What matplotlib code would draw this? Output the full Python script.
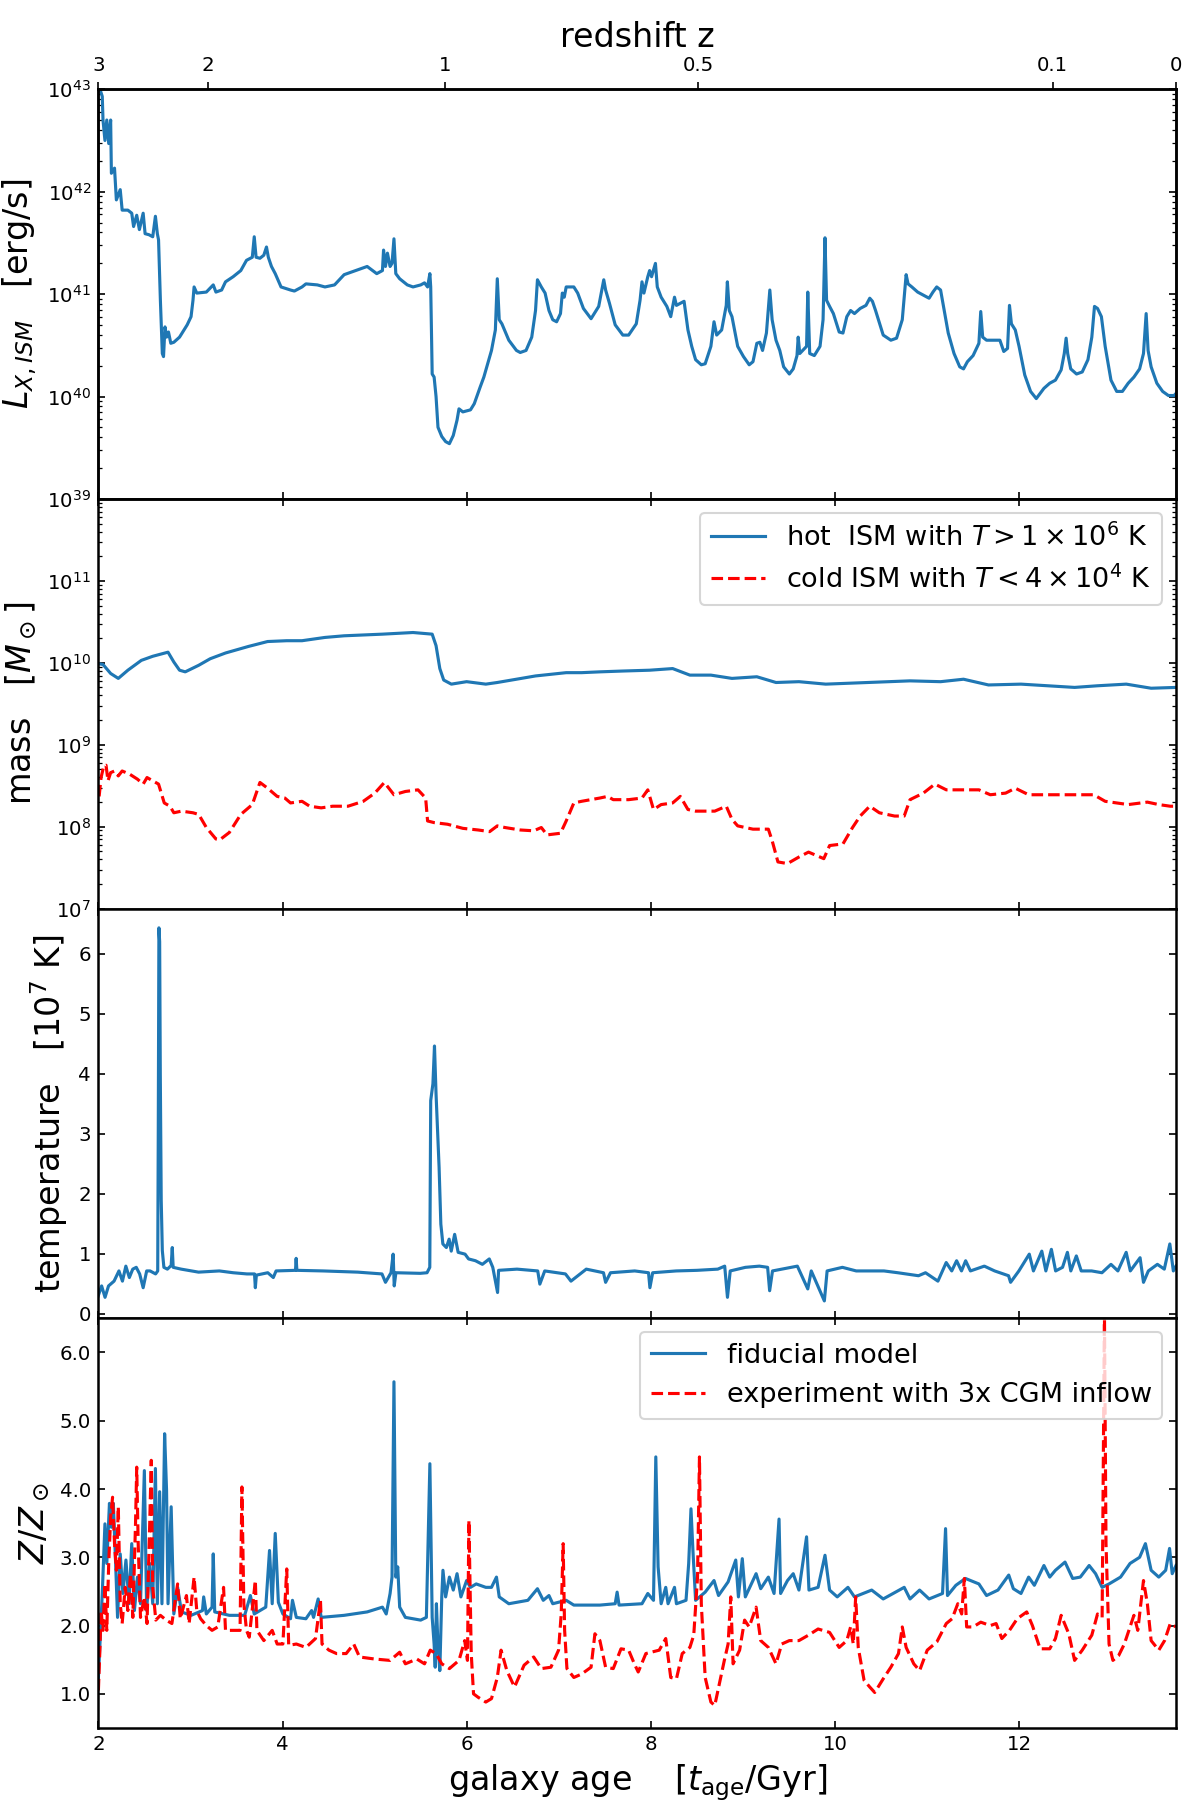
import matplotlib
matplotlib.use("Agg")
import matplotlib.pyplot as plt
import numpy as np

plt.rcParams["axes.linewidth"] = 1.2
plt.rcParams["xtick.labelsize"] = 9.5
plt.rcParams["ytick.labelsize"] = 9.5

# ---- panel 1: X-ray luminosity of the ISM (log10 erg/s) ----
lx_age = [2.017, 2.042, 2.050, 2.071, 2.091, 2.112, 2.133, 2.141, 2.175, 2.195, 2.237, 2.258,
          2.320, 2.362, 2.382, 2.416, 2.445, 2.486, 2.507, 2.549, 2.590, 2.619, 2.640, 2.653,
          2.673, 2.694, 2.707, 2.723, 2.740, 2.761, 2.786, 2.819, 2.881, 2.964, 3.006, 3.027,
          3.039, 3.068, 3.172, 3.247, 3.276, 3.338, 3.380, 3.463, 3.546, 3.608, 3.671, 3.692,
          3.712, 3.754, 3.796, 3.825, 3.845, 3.879, 3.920, 3.983, 4.086, 4.128, 4.211, 4.253,
          4.377, 4.460, 4.564, 4.668, 4.793, 4.918, 5.022, 5.084, 5.096, 5.117, 5.138, 5.167,
          5.188, 5.209, 5.229, 5.271, 5.354, 5.416, 5.500, 5.541, 5.574, 5.599, 5.608, 5.624,
          5.645, 5.666, 5.687, 5.728, 5.770, 5.811, 5.853, 5.894, 5.915, 5.957, 6.040, 6.081,
          6.144, 6.185, 6.268, 6.310, 6.331, 6.352, 6.381, 6.456, 6.539, 6.580, 6.643, 6.705,
          6.746, 6.767, 6.809, 6.850, 6.892, 6.933, 6.975, 7.017, 7.037, 7.058, 7.079, 7.162,
          7.204, 7.266, 7.349, 7.432, 7.487, 7.507, 7.549, 7.611, 7.694, 7.757, 7.840, 7.881,
          7.902, 7.923, 7.965, 7.985, 8.006, 8.048, 8.068, 8.110, 8.172, 8.214, 8.255, 8.276,
          8.359, 8.401, 8.442, 8.484, 8.546, 8.588, 8.650, 8.684, 8.713, 8.767, 8.817, 8.829,
          8.850, 8.879, 8.941, 9.004, 9.066, 9.107, 9.149, 9.182, 9.211, 9.253, 9.290, 9.315,
          9.357, 9.398, 9.440, 9.502, 9.544, 9.585, 9.598, 9.615, 9.689, 9.702, 9.723, 9.773,
          9.835, 9.868, 9.889, 9.906, 9.939, 9.980, 10.043, 10.084, 10.126, 10.167, 10.209,
          10.271, 10.334, 10.375, 10.404, 10.438, 10.521, 10.604, 10.666, 10.728, 10.770,
          10.791, 10.832, 10.895, 10.957, 11.019, 11.061, 11.102, 11.144, 11.186, 11.227,
          11.290, 11.352, 11.393, 11.435, 11.497, 11.560, 11.580, 11.601, 11.643, 11.788,
          11.830, 11.871, 11.892, 11.913, 11.955, 11.996, 12.058, 12.121, 12.183, 12.225,
          12.266, 12.329, 12.391, 12.453, 12.487, 12.507, 12.524, 12.557, 12.620, 12.682,
          12.744, 12.786, 12.815, 12.848, 12.890, 12.931, 12.994, 13.056, 13.118, 13.181,
          13.243, 13.305, 13.347, 13.376, 13.397, 13.430, 13.492, 13.555, 13.617, 13.679, 13.700]
lx_log = [43.00, 42.93, 42.70, 42.50, 42.70, 42.47, 42.70, 42.18, 42.23, 41.92, 42.02, 41.82,
          41.82, 41.79, 41.66, 41.77, 41.63, 41.79, 41.59, 41.58, 41.56, 41.76, 41.59, 41.53,
          40.94, 40.42, 40.39, 40.68, 40.58, 40.63, 40.52, 40.53, 40.58, 40.70, 40.78, 40.94,
          41.07, 41.01, 41.02, 41.09, 41.02, 41.04, 41.12, 41.17, 41.23, 41.33, 41.36, 41.56,
          41.36, 41.35, 41.38, 41.46, 41.36, 41.27, 41.20, 41.07, 41.04, 41.03, 41.07, 41.10,
          41.09, 41.07, 41.09, 41.19, 41.23, 41.27, 41.20, 41.23, 41.43, 41.27, 41.40, 41.27,
          41.30, 41.54, 41.20, 41.15, 41.09, 41.07, 41.09, 41.11, 41.07, 41.20, 41.07, 40.22,
          40.19, 40.00, 39.70, 39.61, 39.56, 39.54, 39.62, 39.77, 39.88, 39.85, 39.87, 39.93,
          40.09, 40.19, 40.45, 40.65, 41.15, 40.75, 40.71, 40.55, 40.45, 40.43, 40.45, 40.58,
          40.84, 41.14, 41.07, 41.01, 40.84, 40.75, 40.73, 40.81, 41.01, 40.97, 41.07, 41.07,
          41.01, 40.86, 40.76, 40.88, 41.14, 41.04, 40.91, 40.70, 40.60, 40.60, 40.71, 40.94,
          41.12, 41.01, 41.17, 41.23, 41.17, 41.30, 41.07, 40.97, 40.88, 40.78, 40.97, 40.89,
          40.93, 40.65, 40.49, 40.36, 40.31, 40.32, 40.49, 40.73, 40.60, 40.65, 40.89, 41.12,
          40.84, 40.78, 40.49, 40.39, 40.31, 40.34, 40.52, 40.53, 40.45, 40.62, 41.04, 40.75,
          40.55, 40.45, 40.29, 40.22, 40.27, 40.40, 40.58, 40.42, 40.49, 41.02, 40.42, 40.40,
          40.49, 40.75, 41.55, 40.94, 40.88, 40.81, 40.63, 40.62, 40.78, 40.84, 40.81,
          40.86, 40.89, 40.96, 40.93, 40.84, 40.60, 40.55, 40.57, 40.75, 41.19,
          41.10, 41.07, 41.02, 40.99, 40.96, 41.02, 41.07, 41.04, 40.83, 40.62,
          40.42, 40.29, 40.27, 40.34, 40.40, 40.52, 40.83, 40.58, 40.55, 40.55,
          40.44, 40.47, 40.89, 40.71, 40.65, 40.49, 40.21, 40.05, 39.98, 40.03,
          40.08, 40.13, 40.16, 40.26, 40.42, 40.57, 40.42, 40.27, 40.22, 40.24,
          40.36, 40.58, 40.88, 40.86, 40.78, 40.49, 40.16, 40.05, 40.05, 40.13,
          40.19, 40.27, 40.42, 40.81, 40.45, 40.29, 40.13, 40.05, 40.01, 40.01, 40.03]

# ---- panel 2: hot and cold ISM mass (log10 Msun) ----
hot_age = [2.00, 2.05, 2.133, 2.216, 2.320, 2.466, 2.590, 2.756, 2.819, 2.881, 2.943, 3.089,
           3.214, 3.380, 3.629, 3.837, 4.045, 4.211, 4.460, 4.668, 5.084, 5.416, 5.624, 5.666,
           5.707, 5.749, 5.832, 5.998, 6.206, 6.331, 6.539, 6.746, 7.079, 7.246, 7.445, 7.694,
           7.985, 8.235, 8.422, 8.650, 8.879, 9.149, 9.357, 9.606, 9.897, 10.354, 10.812,
           11.144, 11.393, 11.664, 12.017, 12.599, 12.848, 13.160, 13.430, 13.700]
hot_log = [9.99, 9.98, 9.87, 9.81, 9.91, 10.03, 10.08, 10.13, 10.01, 9.91, 9.89, 9.97,
           10.05, 10.12, 10.20, 10.26, 10.27, 10.27, 10.31, 10.33, 10.35, 10.37, 10.35, 10.21,
           9.93, 9.79, 9.74, 9.77, 9.74, 9.76, 9.80, 9.84, 9.88, 9.88, 9.89, 9.90,
           9.91, 9.93, 9.85, 9.85, 9.81, 9.83, 9.76, 9.77, 9.74, 9.76, 9.78,
           9.77, 9.80, 9.73, 9.74, 9.70, 9.72, 9.74, 9.69, 9.70]

cold_age = [2.008, 2.029, 2.058, 2.083, 2.104, 2.133, 2.175, 2.216, 2.258, 2.341, 2.424, 2.486,
            2.528, 2.590, 2.653, 2.715, 2.777, 2.819, 2.902, 3.027, 3.089, 3.172, 3.276, 3.318,
            3.422, 3.546, 3.671, 3.754, 3.837, 3.941, 4.024, 4.086, 4.211, 4.294, 4.419, 4.543,
            4.710, 4.876, 5.001, 5.105, 5.209, 5.333, 5.470, 5.553, 5.574, 5.645, 5.791, 5.957,
            6.123, 6.248, 6.331, 6.414, 6.580, 6.726, 6.809, 6.871, 7.017, 7.079, 7.162, 7.246,
            7.445, 7.528, 7.590, 7.757, 7.902, 7.965, 8.027, 8.110, 8.235, 8.318, 8.401, 8.484,
            8.692, 8.817, 8.879, 8.941, 9.107, 9.274, 9.315, 9.378, 9.482, 9.606, 9.710, 9.876,
            9.939, 10.084, 10.188, 10.271, 10.375, 10.479, 10.645, 10.749, 10.812, 10.957,
            11.082, 11.206, 11.435, 11.560, 11.684, 11.850, 11.955, 12.100, 12.433, 12.807,
            12.931, 13.181, 13.389, 13.513, 13.638, 13.700]
cold_log = [8.37, 8.60, 8.74, 8.75, 8.56, 8.66, 8.68, 8.62, 8.68, 8.64, 8.58, 8.52,
            8.60, 8.56, 8.52, 8.29, 8.25, 8.17, 8.19, 8.17, 8.15, 7.99, 7.85, 7.84,
            7.93, 8.15, 8.27, 8.54, 8.47, 8.37, 8.35, 8.29, 8.31, 8.25, 8.23, 8.25,
            8.25, 8.31, 8.41, 8.54, 8.39, 8.43, 8.45, 8.35, 8.07, 8.05, 8.03, 7.98,
            7.96, 7.94, 8.01, 7.99, 7.96, 7.95, 7.99, 7.90, 7.92, 8.07, 8.29, 8.31,
            8.35, 8.37, 8.33, 8.33, 8.35, 8.45, 8.21, 8.27, 8.29, 8.37, 8.21, 8.19,
            8.19, 8.25, 8.09, 8.01, 7.97, 7.97, 7.83, 7.57, 7.55, 7.63, 7.69, 7.61,
            7.77, 7.79, 7.99, 8.13, 8.25, 8.17, 8.13, 8.13, 8.33, 8.41,
            8.52, 8.45, 8.45, 8.45, 8.39, 8.41, 8.47, 8.39, 8.39, 8.39,
            8.31, 8.27, 8.30, 8.27, 8.25, 8.25]

# ---- panel 3: hot ISM temperature (1e7 K) ----
temp_age = [1.997, 2.035, 2.072, 2.110, 2.170, 2.223, 2.261, 2.298, 2.336, 2.373, 2.411, 2.448,
            2.486, 2.524, 2.561, 2.621, 2.644, 2.650, 2.657, 2.665, 2.672, 2.682, 2.694, 2.711,
            2.749, 2.790, 2.802, 2.812, 2.899, 3.012, 3.087, 3.313, 3.463, 3.613, 3.695, 3.704,
            3.715, 3.839, 3.899, 3.929, 4.140, 4.147, 4.155, 4.440, 4.816, 5.079, 5.117, 5.177,
            5.200, 5.212, 5.230, 5.493, 5.568, 5.598, 5.608, 5.632, 5.649, 5.666, 5.699, 5.718,
            5.740, 5.778, 5.808, 5.831, 5.868, 5.906, 5.981, 6.019, 6.094, 6.169, 6.244, 6.282,
            6.334, 6.345, 6.545, 6.770, 6.793, 6.846, 7.071, 7.131, 7.297, 7.484, 7.507, 7.560,
            7.823, 7.973, 7.988, 8.018, 8.274, 8.499, 8.725, 8.800, 8.830, 8.860, 9.025, 9.176,
            9.266, 9.288, 9.319, 9.589, 9.702, 9.740, 9.882, 9.912, 10.078, 10.228, 10.529,
            10.679, 10.904, 10.980, 11.115, 11.205, 11.265, 11.318, 11.371, 11.416, 11.468,
            11.619, 11.731, 11.882, 11.904, 11.994, 12.107, 12.152, 12.243, 12.287, 12.347,
            12.393, 12.468, 12.521, 12.558, 12.618, 12.671, 12.784, 12.896, 12.994, 13.069,
            13.159, 13.204, 13.310, 13.347, 13.400, 13.498, 13.573, 13.633, 13.671, 13.700]
temp_val = [0.29, 0.46, 0.27, 0.46, 0.54, 0.71, 0.54, 0.79, 0.60, 0.74, 0.77, 0.66,
            0.43, 0.71, 0.71, 0.66, 0.71, 3.00, 6.43, 6.20, 4.00, 1.89, 1.05, 0.77,
            0.74, 0.80, 1.10, 0.77, 0.74, 0.71, 0.69, 0.71, 0.68, 0.66, 0.66, 0.43,
            0.64, 0.68, 0.60, 0.71, 0.72, 0.92, 0.72, 0.71, 0.69, 0.66, 0.52, 0.68,
            0.99, 0.46, 0.68, 0.67, 0.68, 0.77, 3.55, 3.83, 4.46, 3.66, 2.44, 1.49,
            1.16, 1.10, 1.24, 1.04, 1.32, 1.02, 0.99, 0.91, 0.88, 0.82, 0.91, 0.77,
            0.35, 0.72, 0.74, 0.71, 0.49, 0.71, 0.66, 0.54, 0.74, 0.68, 0.52, 0.68,
            0.71, 0.68, 0.43, 0.68, 0.71, 0.72, 0.74, 0.79, 0.27, 0.71, 0.77, 0.79,
            0.77, 0.38, 0.71, 0.79, 0.41, 0.71, 0.21, 0.71, 0.77, 0.71, 0.71,
            0.68, 0.63, 0.68, 0.54, 0.85, 0.71, 0.88, 0.71, 0.88, 0.71,
            0.79, 0.71, 0.63, 0.52, 0.71, 0.99, 0.71, 1.04, 0.71, 1.07,
            0.71, 0.77, 1.02, 0.71, 0.96, 0.71, 0.71, 0.68, 0.82, 0.71,
            1.02, 0.71, 0.93, 0.52, 0.71, 0.82, 0.74, 1.16, 0.71, 0.79]

# ---- panel 4: ISM metallicity (Z/Zsun) ----
zfid_age = [2.00, 2.017, 2.042, 2.071, 2.091, 2.120, 2.141, 2.162, 2.187, 2.208, 2.237, 2.266,
            2.299, 2.333, 2.362, 2.391, 2.424, 2.457, 2.499, 2.524, 2.557, 2.590, 2.619, 2.640,
            2.665, 2.690, 2.719, 2.740, 2.756, 2.790, 2.819, 2.860, 2.902, 3.006, 3.130, 3.143,
            3.172, 3.234, 3.247, 3.263, 3.422, 3.588, 3.650, 3.692, 3.817, 3.858, 3.887, 3.920,
            3.954, 4.003, 4.086, 4.107, 4.149, 4.253, 4.315, 4.336, 4.386, 4.419, 4.668, 4.918,
            5.084, 5.125, 5.167, 5.188, 5.209, 5.229, 5.250, 5.271, 5.333, 5.499, 5.561, 5.599,
            5.624, 5.645, 5.657, 5.670, 5.686, 5.707, 5.728, 5.741, 5.770, 5.811, 5.853, 5.894,
            5.936, 5.998, 6.040, 6.102, 6.206, 6.268, 6.322, 6.352, 6.456, 6.663, 6.767, 6.830,
            6.892, 6.933, 7.079, 7.162, 7.445, 7.611, 7.632, 7.653, 7.902, 7.965, 8.027, 8.052,
            8.077, 8.110, 8.160, 8.185, 8.255, 8.276, 8.380, 8.409, 8.434, 8.455, 8.484, 8.588,
            8.684, 8.733, 8.837, 8.920, 8.949, 8.991, 9.024, 9.141, 9.191, 9.274, 9.336, 9.390,
            9.407, 9.482, 9.544, 9.606, 9.689, 9.715, 9.814, 9.889, 9.939, 10.022, 10.138,
            10.209, 10.396, 10.521, 10.749, 10.812, 10.916, 11.019, 11.165, 11.198, 11.219,
            11.310, 11.414, 11.560, 11.643, 11.767, 11.884, 11.934, 12.017, 12.100, 12.162,
            12.266, 12.329, 12.391, 12.495, 12.578, 12.661, 12.757, 12.827, 12.898, 12.973,
            13.098, 13.201, 13.305, 13.368, 13.430, 13.513, 13.588, 13.630, 13.659, 13.700]
zfid_val = [1.24, 1.73, 2.47, 3.49, 2.91, 3.79, 3.44, 3.79, 2.91, 2.12, 3.05, 2.47,
            2.96, 2.32, 3.20, 2.22, 2.71, 2.32, 4.27, 2.22, 2.91, 2.32, 4.30, 2.32,
            3.96, 2.32, 4.81, 3.98, 2.32, 3.74, 2.17, 2.56, 2.20, 2.15, 2.22, 2.42,
            2.17, 2.27, 3.05, 2.20, 2.15, 2.15, 2.44, 2.17, 2.27, 3.10, 2.32, 3.35,
            2.34, 2.17, 2.10, 2.37, 2.12, 2.10, 2.22, 2.12, 2.39, 2.12, 2.15, 2.20,
            2.27, 2.17, 2.47, 2.71, 5.57, 2.71, 2.86, 2.27, 2.12, 2.08, 2.12, 4.37,
            2.12, 1.73, 1.39, 2.32, 1.73, 1.34, 2.42, 2.81, 2.42, 2.71, 2.52, 2.76,
            2.42, 2.66, 2.56, 2.61, 2.56, 2.56, 2.71, 2.42, 2.32, 2.37, 2.54, 2.37,
            2.44, 2.32, 2.37, 2.30, 2.30, 2.32, 2.49, 2.30, 2.32, 2.47, 2.37, 4.47,
            2.86, 2.32, 2.56, 2.32, 2.56, 2.32, 2.37, 2.91, 3.71, 3.10, 2.37, 2.49,
            2.66, 2.44, 2.64, 2.96, 2.42, 2.98, 2.42, 2.76, 2.54, 2.71, 2.47, 3.56,
            2.47, 2.66, 2.76, 2.52, 3.30, 2.52, 2.56, 3.03, 2.52, 2.42, 2.56,
            2.42, 2.52, 2.39, 2.56, 2.39, 2.52, 2.39, 2.47, 3.42, 2.44,
            2.59, 2.69, 2.61, 2.44, 2.52, 2.74, 2.54, 2.47, 2.71, 2.59,
            2.88, 2.71, 2.81, 2.93, 2.69, 2.71, 2.88, 2.76, 2.56, 2.61,
            2.71, 2.91, 3.00, 3.20, 2.81, 2.71, 2.81, 3.13, 2.76, 2.88]

zexp_age = [2.00, 2.017, 2.029, 2.050, 2.071, 2.091, 2.112, 2.133, 2.154, 2.175, 2.195, 2.216,
            2.237, 2.258, 2.291, 2.320, 2.349, 2.374, 2.403, 2.416, 2.432, 2.457, 2.499, 2.528,
            2.557, 2.574, 2.590, 2.623, 2.673, 2.736, 2.798, 2.860, 2.889, 2.956, 2.985, 3.039,
            3.068, 3.110, 3.172, 3.234, 3.296, 3.359, 3.380, 3.442, 3.505, 3.538, 3.558, 3.579,
            3.608, 3.638, 3.704, 3.721, 3.796, 3.887, 3.941, 4.003, 4.045, 4.066, 4.149, 4.253,
            4.357, 4.411, 4.428, 4.503, 4.586, 4.690, 4.772, 4.835, 5.001, 5.167, 5.271, 5.333,
            5.458, 5.541, 5.603, 5.666, 5.728, 5.811, 5.915, 5.977, 6.007, 6.023, 6.048, 6.073,
            6.123, 6.206, 6.268, 6.331, 6.372, 6.435, 6.518, 6.622, 6.726, 6.809, 6.913, 6.996,
            7.025, 7.046, 7.062, 7.087, 7.162, 7.246, 7.349, 7.391, 7.445, 7.507, 7.590, 7.674,
            7.757, 7.819, 7.861, 7.944, 8.089, 8.160, 8.214, 8.276, 8.339, 8.422, 8.464, 8.505,
            8.526, 8.546, 8.588, 8.650, 8.692, 8.742, 8.796, 8.837, 8.866, 8.891, 8.962, 9.016,
            9.066, 9.141, 9.191, 9.274, 9.357, 9.419, 9.502, 9.606, 9.710, 9.814, 9.939,
            10.043, 10.126, 10.167, 10.196, 10.222, 10.250, 10.313, 10.375, 10.429, 10.521,
            10.604, 10.687, 10.728, 10.770, 10.853, 10.916, 10.999, 11.103, 11.206, 11.269,
            11.331, 11.373, 11.402, 11.427, 11.497, 11.580, 11.684, 11.747, 11.809, 11.892,
            11.976, 12.079, 12.141, 12.225, 12.329, 12.391, 12.453, 12.536, 12.599, 12.682,
            12.786, 12.848, 12.898, 12.923, 12.940, 12.973, 13.015, 13.077, 13.139, 13.201,
            13.243, 13.285, 13.347, 13.389, 13.430, 13.513, 13.576, 13.638, 13.700]
zexp_val = [1.05, 1.68, 2.22, 1.93, 2.61, 1.93, 2.91, 3.59, 3.88, 3.20, 2.81, 3.74,
            2.32, 2.03, 2.56, 2.22, 2.76, 2.12, 3.49, 4.32, 3.20, 2.12, 2.42, 2.03,
            3.49, 4.42, 2.56, 2.08, 2.15, 2.08, 2.03, 2.61, 2.10, 2.44, 2.03, 2.71,
            2.22, 2.10, 2.00, 1.93, 1.98, 2.56, 1.93, 1.93, 1.93, 1.93, 4.03, 2.32,
            1.93, 1.83, 2.66, 1.93, 1.78, 1.93, 1.73, 1.73, 2.83, 1.71, 1.73, 1.68,
            1.81, 2.37, 1.73, 1.64, 1.59, 1.59, 1.73, 1.54, 1.51, 1.49, 1.61, 1.44,
            1.51, 1.44, 1.64, 1.59, 1.44, 1.37, 1.49, 1.78, 1.49, 3.54, 1.59, 1.00,
            0.95, 0.88, 0.93, 1.24, 1.64, 1.34, 1.10, 1.42, 1.54, 1.37, 1.39, 1.64,
            2.17, 3.20, 1.93, 1.37, 1.24, 1.29, 1.39, 1.88, 1.78, 1.39, 1.37, 1.66,
            1.64, 1.44, 1.32, 1.59, 1.64, 1.81, 1.24, 1.22, 1.59, 1.68, 1.86, 2.71,
            4.47, 2.32, 1.24, 0.88, 0.83, 1.15, 1.49, 1.73, 2.42, 1.44, 1.64, 2.08,
            1.98, 2.27, 1.78, 1.68, 1.44, 1.73, 1.78, 1.78, 1.86, 1.95, 1.90,
            1.68, 1.78, 1.98, 1.73, 2.42, 1.68, 1.20, 1.10, 1.02, 1.22,
            1.39, 1.59, 1.98, 1.68, 1.44, 1.34, 1.64, 1.76, 2.03, 2.10,
            2.32, 2.17, 2.69, 1.98, 1.98, 2.05, 2.00, 2.03, 1.81, 1.93,
            2.10, 2.20, 2.00, 1.66, 1.66, 1.81, 2.15, 1.88, 1.49, 1.64,
            1.86, 2.17, 2.12, 6.60, 3.20, 1.73, 1.49, 1.56, 1.73, 1.98,
            2.15, 1.93, 2.66, 2.32, 1.78, 1.64, 1.78, 2.03, 1.98]

# redshift labels on the top axis and the galaxy age they correspond to
z_labels = ["3", "2", "1", "0.5", "0.1", "0"]
z_ages = [2.0, 3.19, 5.76, 8.51, 12.36, 13.70]

blue = "#1f77b4"

fig = plt.figure(figsize=(8, 12), dpi=150)
gs = fig.add_gridspec(4, 1, left=0.082, right=0.98, top=0.9504, bottom=0.04, hspace=0)
axes = [fig.add_subplot(gs[i]) for i in range(4)]

for ax in axes:
    ax.set_xlim(2.0, 13.7)
    ax.tick_params(which="both", direction="in", top=True, right=True)
    ax.set_xticks([2, 4, 6, 8, 10, 12])
for ax in axes[:3]:
    ax.tick_params(labelbottom=False)

# panel 1
ax1 = axes[0]
ax1.plot(lx_age, 10 ** np.array(lx_log), color=blue, lw=1.5)
ax1.set_yscale("log")
ax1.set_ylim(1e39, 1e43)
ax1.tick_params(which="both", top=False)
ax1.set_ylabel(r"$L_{X,ISM}$   [erg/s]", fontsize=16)

top = ax1.twiny()
top.set_xlim(ax1.get_xlim())
top.set_xticks(z_ages)
top.set_xticklabels(z_labels)
top.set_xlabel("redshift z", fontsize=16)

# panel 2
ax2 = axes[1]
ax2.plot(hot_age, 10 ** np.array(hot_log), color=blue, lw=1.5,
         label=r"hot  ISM with $T > 1\times10^6$ K")
ax2.plot(cold_age, 10 ** np.array(cold_log), color="red", ls="--", lw=1.5,
         label=r"cold ISM with $T < 4\times10^4$ K")
ax2.set_yscale("log")
ax2.set_ylim(1e7, 1e12)
ax2.set_yticks([1e7, 1e8, 1e9, 1e10, 1e11, 1e12])
ax2.get_yticklabels()[-1].set_visible(False)
ax2.set_ylabel(r"mass   [$M_\odot$]", fontsize=16)
ax2.legend(loc="upper right", fontsize=13)

# panel 3
ax3 = axes[2]
ax3.plot(temp_age, temp_val, color=blue, lw=1.5)
ax3.set_ylim(-0.08, 6.75)
ax3.set_yticks([0, 1, 2, 3, 4, 5, 6])
ax3.set_ylabel(r"temperature   [$10^7$ K]", fontsize=16)

# panel 4
ax4 = axes[3]
ax4.plot(zfid_age, zfid_val, color=blue, lw=1.5, label="fiducial model")
ax4.plot(zexp_age, zexp_val, color="red", ls="--", lw=1.5, label="experiment with 3x CGM inflow")
ax4.set_ylim(0.5, 6.5)
ax4.set_yticks([1, 2, 3, 4, 5, 6])
ax4.set_yticklabels(["1.0", "2.0", "3.0", "4.0", "5.0", "6.0"])
ax4.set_ylabel(r"$Z/Z_\odot$", fontsize=16)
ax4.set_xlabel(r"galaxy age    [$t_{\rm age}$/Gyr]", fontsize=16)
ax4.legend(loc="upper right", fontsize=13)

fig.savefig("out.png", dpi=150)
